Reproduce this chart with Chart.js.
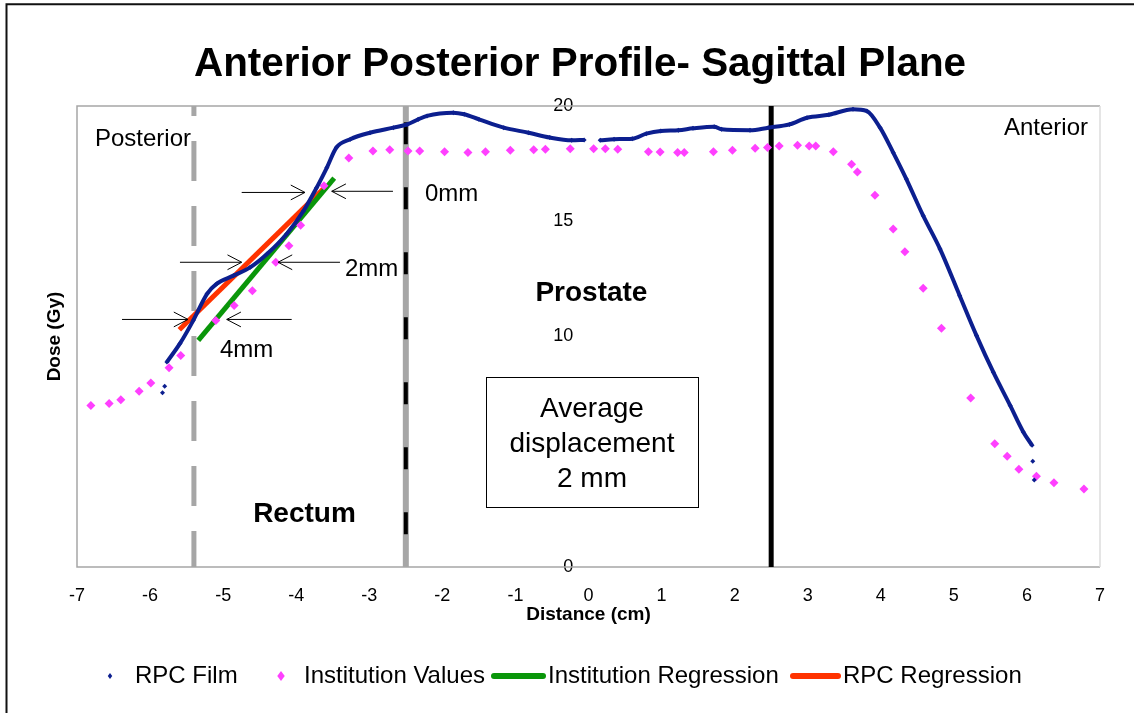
<!DOCTYPE html>
<html>
<head>
<meta charset="utf-8">
<script src="https://cdn.jsdelivr.net/npm/chart.js@4.4.0/dist/chart.umd.min.js"></script>
<style>
  html, body { margin: 0; padding: 0; background: #fff; }
</style>
</head>
<body>
<canvas id="grafico" width="1134" height="713"></canvas>
<script>
// datos (cm / Gy)
const filmX = [-5.83, null, -5.80, null,
  -5.77, -5.59, -5.41, -5.22, -5.09, -4.86, -4.63, -4.40, -4.13, -3.90, -3.72, -3.58, -3.45, -3.26,
  -2.99, -2.67, -2.48, -2.33, -2.21, -1.85, -1.70, -1.50, -1.16, -0.82, -0.53, -0.23, -0.06, null,
  0.16, 0.35, 0.60, 0.79, 0.99, 1.23, 1.43, 1.72, 1.82, 2.21, 2.46, 2.75, 2.99, 3.29, 3.62, 3.81,
  3.99, 4.17, 4.35, 4.58, 4.81, 5.08, 5.31, 5.54, 5.77, 5.95, 6.07, null, 6.08, null, 6.10];
const filmY = [7.56, null, 7.84, null,
  8.89, 9.70, 10.69, 11.85, 12.28, 12.64, 13.00, 13.58, 14.45, 15.45, 16.46, 17.33, 18.20, 18.56,
  18.84, 19.06, 19.20, 19.42, 19.57, 19.71, 19.64, 19.42, 19.06, 18.84, 18.63, 18.51, 18.53, null,
  18.51, 18.56, 18.58, 18.80, 18.92, 18.95, 19.03, 19.10, 18.99, 18.95, 19.06, 19.20, 19.49, 19.62, 19.86, 19.78,
  19.06, 17.98, 16.83, 15.24, 13.80, 11.77, 10.04, 8.45, 7.01, 5.86, 5.28, null, 4.59, null, 3.77];

const instX = [-6.81, -6.56, -6.40, -6.15, -5.99, -5.74, -5.58, -5.10, -4.85, -4.60, -4.28, -4.10, -3.94, -3.62,
  -3.28, -2.95, -2.72, -2.47, -2.31, -1.97, -1.65, -1.41, -1.07, -0.75, -0.59, -0.25, 0.07, 0.23, 0.40,
  0.82, 0.98, 1.22, 1.31, 1.71, 1.97, 2.28, 2.45, 2.61, 2.86, 3.02, 3.11, 3.35, 3.60, 3.68, 3.92, 4.17,
  4.33, 4.58, 4.83, 5.23, 5.56, 5.73, 5.89, 6.13, 6.37, 6.78];
const instY = [7.01, 7.09, 7.26, 7.62, 7.98, 8.64, 9.18, 10.69, 11.34, 11.99, 13.22, 13.94, 14.83, 16.54,
  17.74, 18.05, 18.10, 18.05, 18.05, 18.02, 17.98, 18.02, 18.08, 18.10, 18.12, 18.15, 18.15, 18.15, 18.12,
  18.02, 18.00, 17.98, 17.98, 18.02, 18.08, 18.17, 18.20, 18.27, 18.30, 18.27, 18.27, 18.02, 17.47, 17.14, 16.13, 14.66,
  13.68, 12.09, 10.36, 7.33, 5.35, 4.81, 4.24, 3.94, 3.65, 3.38];

const instRegX = [-5.34, -3.48];
const instRegY = [9.83, 16.87];
const rpcRegX = [-5.60, -3.61];
const rpcRegY = [10.29, 16.46];

const xTicks = { min: -7, max: 7, step: 1 };
const yTicks = { min: 0, max: 20, step: 5 };
const yAxisAt = -0.21; // etiquetas del eje y pegadas a x=0

// limites posterior / prostata / anterior
const limites = [-5.4, -2.5, 2.5];

const FAM = '"Liberation Sans", Arial, sans-serif';
const navy = '#0c1f8f';
const magenta = '#ff40ff';
const verde = '#0a960a';
const rojo = '#ff3300';

const pares = (xs, ys) => xs.map((x, i) => ({ x: x, y: ys[i] }));

// flechas de desplazamiento (coordenadas de datos)
const flechas = [
  [-4.746, 16.25, -3.880, 16.25], [-2.676, 16.30, -3.514, 16.30],
  [-5.591, 13.22, -4.746, 13.22], [-3.401, 13.22, -4.249, 13.22],
  [-6.384, 10.74, -5.481, 10.74], [-4.062, 10.74, -4.951, 10.74]
];
const textos = [
  { t: '0mm', x: -2.238, y: 15.89, a: 'left', f: '24px ' + FAM },
  { t: '2mm', x: -3.333, y: 12.64, a: 'left', f: '24px ' + FAM },
  { t: '4mm', x: -5.043, y: 9.10, a: 'left', f: '24px ' + FAM },
  { t: 'Posterior', x: -6.754, y: 18.27, a: 'left', f: '24px ' + FAM },
  { t: 'Anterior', x: 6.836, y: 18.73, a: 'right', f: '24px ' + FAM },
  { t: 'Prostate', x: 0.04, y: 11.56, a: 'center', f: 'bold 28px ' + FAM },
  { t: 'Rectum', x: -3.887, y: 1.95, a: 'center', f: 'bold 28px ' + FAM }
];
const caja = { x1: -1.403, x2: 1.498, y1: 8.225, y2: 2.597,
  lineas: [['Average', 6.51], ['displacement', 4.99], ['2 mm', 3.48]] };

function flecha(ctx, x1, y1, x2, y2) {
  const a = Math.atan2(y2 - y1, x2 - x1), L = 16, w = 0.48;
  ctx.beginPath();
  ctx.moveTo(x1, y1); ctx.lineTo(x2, y2);
  ctx.moveTo(x2 - L * Math.cos(a - w), y2 - L * Math.sin(a - w));
  ctx.lineTo(x2, y2);
  ctx.lineTo(x2 - L * Math.cos(a + w), y2 - L * Math.sin(a + w));
  ctx.stroke();
}

const decor = {
  id: 'decor',
  beforeDraw(chart) {
    const c = chart.ctx;
    c.save();
    c.fillStyle = '#fff';
    c.fillRect(0, 0, chart.width, chart.height);
    c.strokeStyle = '#111';
    c.lineWidth = 2;
    c.beginPath();
    c.moveTo(6.5, chart.height); c.lineTo(6.5, 4.3); c.lineTo(chart.width, 4.3);
    c.stroke();
    c.restore();
  },
  beforeDatasetsDraw(chart) {
    const c = chart.ctx, a = chart.chartArea, sx = chart.scales.x, sy = chart.scales.y;
    c.save();
    // borde del area
    c.lineWidth = 1.5;
    c.strokeStyle = '#a6a6a6';
    c.beginPath();
    c.moveTo(a.right, a.top); c.lineTo(a.left, a.top); c.lineTo(a.left, a.bottom); c.lineTo(a.right, a.bottom);
    c.stroke();
    c.strokeStyle = '#dcdcdc';
    c.beginPath(); c.moveTo(a.right, a.top); c.lineTo(a.right, a.bottom); c.stroke();

    // posterior: gris a trazos
    let px = sx.getPixelForValue(limites[0]);
    c.strokeStyle = '#a6a6a6'; c.lineWidth = 5;
    c.setLineDash([40, 25]); c.lineDashOffset = 30;
    c.beginPath(); c.moveTo(px, a.top); c.lineTo(px, a.bottom); c.stroke();

    // prostata posterior: gris + negro a trazos
    px = sx.getPixelForValue(limites[1]);
    c.setLineDash([]);
    c.strokeStyle = '#a6a6a6'; c.lineWidth = 6;
    c.beginPath(); c.moveTo(px, a.top); c.lineTo(px, a.bottom); c.stroke();
    c.strokeStyle = '#000'; c.lineWidth = 4;
    c.setLineDash([22, 43]); c.lineDashOffset = 0;
    c.beginPath(); c.moveTo(px, sy.getPixelForValue(19.3)); c.lineTo(px, a.bottom); c.stroke();

    // anterior: negro
    px = sx.getPixelForValue(limites[2]);
    c.setLineDash([]);
    c.lineWidth = 5;
    c.beginPath(); c.moveTo(px, a.top); c.lineTo(px, a.bottom); c.stroke();
    c.restore();
  },
  afterDatasetsDraw(chart) {
    const c = chart.ctx, a = chart.chartArea, sx = chart.scales.x, sy = chart.scales.y;
    c.save();
    c.strokeStyle = '#000'; c.lineWidth = 1;
    flechas.forEach(f => flecha(c, sx.getPixelForValue(f[0]), sy.getPixelForValue(f[1]),
      sx.getPixelForValue(f[2]), sy.getPixelForValue(f[3])));

    c.fillStyle = '#000';
    c.textBaseline = 'alphabetic';
    textos.forEach(t => {
      c.font = t.f; c.textAlign = t.a;
      c.fillText(t.t, sx.getPixelForValue(t.x), sy.getPixelForValue(t.y));
    });

    // caja
    const bx = sx.getPixelForValue(caja.x1), by = sy.getPixelForValue(caja.y1);
    const bw = sx.getPixelForValue(caja.x2) - bx, bh = sy.getPixelForValue(caja.y2) - by;
    c.fillStyle = '#fff'; c.fillRect(bx, by, bw, bh);
    c.strokeStyle = '#000'; c.lineWidth = 1; c.strokeRect(Math.round(bx) + 0.5, Math.round(by) + 0.5, Math.round(bw), Math.round(bh));
    c.fillStyle = '#000'; c.font = '28px ' + FAM; c.textAlign = 'center';
    const cx = sx.getPixelForValue((caja.x1 + caja.x2) / 2);
    caja.lineas.forEach(l => c.fillText(l[0], cx, sy.getPixelForValue(l[1])));

    // titulo y ejes
    c.font = 'bold 40.4px ' + FAM; c.textAlign = 'center';
    c.fillText('Anterior Posterior Profile- Sagittal Plane', 580, 76);
    c.font = 'bold 19px ' + FAM;
    c.fillText('Distance (cm)', sx.getPixelForValue(0), 620);
    c.save();
    c.translate(55, (a.top + a.bottom) / 2);
    c.rotate(-Math.PI / 2);
    c.textBaseline = 'middle';
    c.fillText('Dose (Gy)', 0, 0);
    c.restore();

    // leyenda
    const ly = 676;
    const slots = [[110, 135], [281, 304], [491, 548], [790, 843]];
    c.font = '24px ' + FAM; c.textAlign = 'left'; c.textBaseline = 'middle';
    chart.data.datasets.forEach((d, i) => {
      const s = slots[i];
      if (d.showLine && d.pointRadius === 0) {
        c.strokeStyle = d.borderColor; c.lineWidth = 6; c.lineCap = 'round';
        c.beginPath(); c.moveTo(s[0] + 3, ly); c.lineTo(s[1] - 5, ly); c.stroke();
      } else {
        const r = i === 0 ? 3 : 5;
        c.fillStyle = d.backgroundColor;
        c.beginPath();
        c.moveTo(s[0], ly - r); c.lineTo(s[0] + r * 0.75, ly); c.lineTo(s[0], ly + r); c.lineTo(s[0] - r * 0.75, ly);
        c.closePath(); c.fill();
      }
      c.fillStyle = '#000';
      c.fillText(d.label, s[1], ly);
    });
    c.restore();
  }
};

const tickFont = { family: FAM, size: 18 };

const myChart = new Chart(document.getElementById('grafico'), {
  type: 'scatter',
  data: {
    datasets: [
      { label: 'RPC Film', data: pares(filmX, filmY), showLine: true, spanGaps: false,
        cubicInterpolationMode: 'monotone',
        borderColor: navy, backgroundColor: navy, borderWidth: 4, borderJoinStyle: 'round',
        pointStyle: 'rectRot', pointRadius: 2.5, pointBorderWidth: 0, pointBackgroundColor: navy },
      { label: 'Institution Values', data: pares(instX, instY), showLine: false,
        backgroundColor: magenta, borderColor: magenta,
        pointStyle: 'rectRot', pointRadius: 4.5, pointBorderWidth: 0, pointBackgroundColor: magenta },
      { label: 'Institution Regression', data: pares(instRegX, instRegY), showLine: true,
        borderColor: verde, backgroundColor: verde, borderWidth: 5, pointRadius: 0 },
      { label: 'RPC Regression', data: pares(rpcRegX, rpcRegY), showLine: true,
        borderColor: rojo, backgroundColor: rojo, borderWidth: 5, pointRadius: 0 }
    ]
  },
  options: {
    responsive: false,
    animation: false,
    events: [],
    layout: { padding: { left: 77, right: 34, top: 106, bottom: 0 } },
    plugins: {
      legend: { display: false },
      title: { display: false },
      tooltip: { enabled: false }
    },
    scales: {
      x: {
        type: 'linear', min: xTicks.min, max: xTicks.max,
        ticks: { stepSize: xTicks.step, padding: 18, color: '#000', font: tickFont },
        grid: { display: false, drawTicks: false },
        border: { display: false },
        afterFit: (s) => { s.height = 146; }
      },
      y: {
        type: 'linear', min: yTicks.min, max: yTicks.max, position: { x: yAxisAt },
        ticks: { stepSize: yTicks.step, color: '#000', font: tickFont },
        grid: { display: false, drawTicks: false },
        border: { display: false }
      }
    }
  },
  plugins: [decor]
});
</script>
</body>
</html>
